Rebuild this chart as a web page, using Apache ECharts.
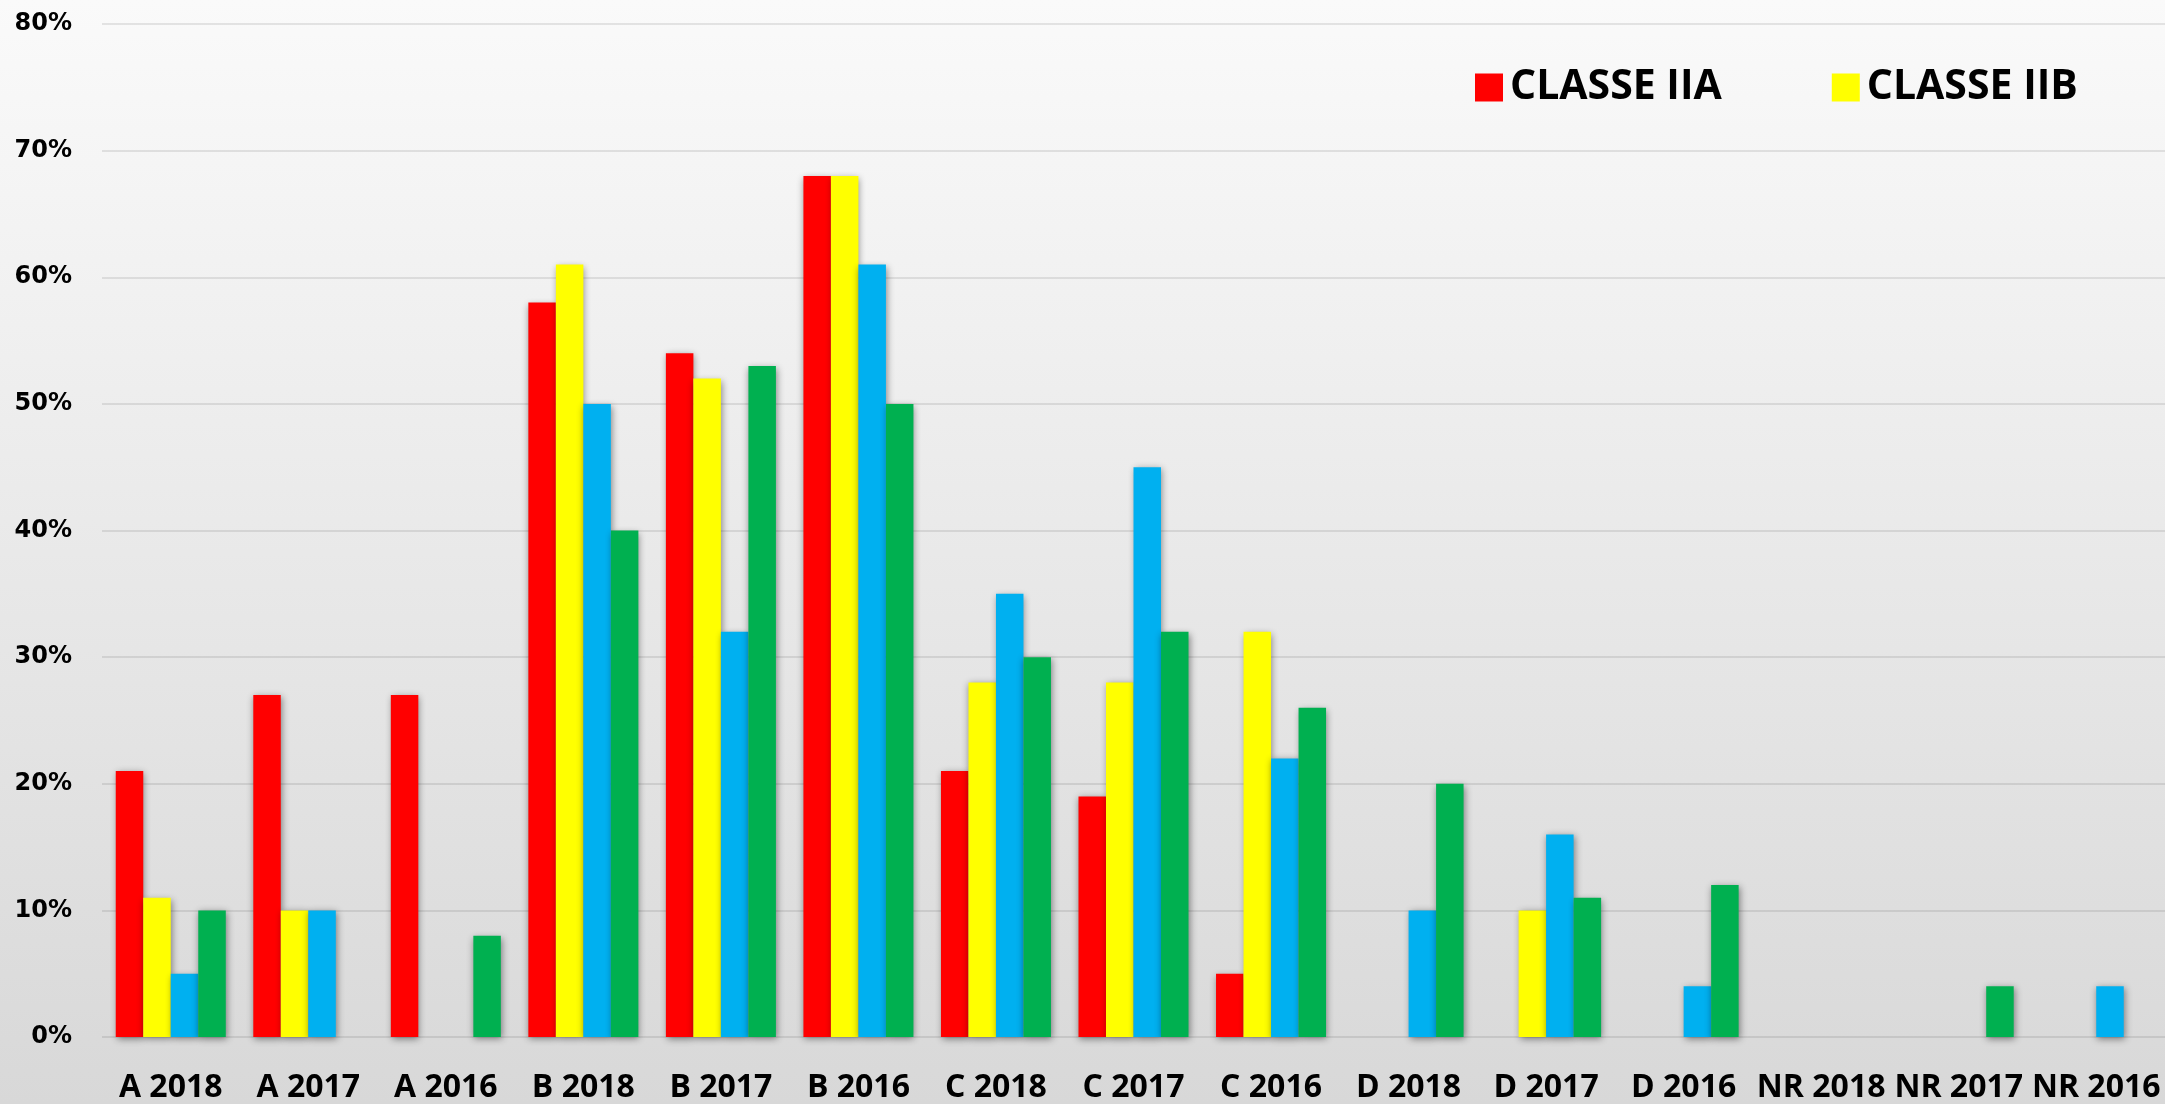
<!DOCTYPE html>
<html>
<head>
<meta charset="utf-8">
<script src="https://cdn.jsdelivr.net/npm/echarts@6/dist/echarts.min.js"></script>
<style>
html,body{margin:0;padding:0;width:2165px;height:1104px;overflow:hidden;}
body{background:linear-gradient(to bottom,#fafafa 0%,#d8d8d8 100%);}
#c{width:2165px;height:1104px;}
</style>
</head>
<body>
<div id="c"></div>
<script>
var categories = ['A 2018','A 2017','A 2016','B 2018','B 2017','B 2016','C 2018','C 2017','C 2016','D 2018','D 2017','D 2016','NR 2018','NR 2017','NR 2016'];
var seriesNames = ['CLASSE IIA','CLASSE IIB','CLASSE III','CLASSE IV'];
var classeIIA = [21, 27, 27, 58, 54, 68, 21, 19, 5, null, null, null, null, null, null];
var classeIIB = [11, 10, null, 61, 52, 68, 28, 28, 32, null, 10, null, null, null, null];
var classeIII = [5, 10, null, 50, 32, 61, 35, 45, 22, 10, 16, 4, null, null, 4];
var classeIV  = [10, null, 8, 40, 53, 50, 30, 32, 26, 20, 11, 12, null, 4, null];
var yTicks = [0, 10, 20, 30, 40, 50, 60, 70, 80];
var colors = ['#FF0000','#FFFF00','#00B0F0','#00B050'];

var chart = echarts.init(document.getElementById('c'), null, {renderer:'canvas'});
var dataSets = [classeIIA, classeIIB, classeIII, classeIV];
var series = dataSets.map(function(d, i){
  return {
    name: seriesNames[i],
    type: 'bar',
    data: d,
    barGap: '0%',
    barCategoryGap: '20%',
    itemStyle: {
      color: colors[i],
      shadowColor: 'rgba(0,0,0,0.45)',
      shadowBlur: 7,
      shadowOffsetX: 1,
      shadowOffsetY: 2
    }
  };
});
chart.setOption({
  backgroundColor: 'transparent',
  animation: false,
  color: colors,
  grid: {left: 102, right: 0, top: 24, bottom: 64, containLabel: false},
  legend: {
    data: [seriesNames[0], seriesNames[1]],
    left: 1470, top: 62,
    itemWidth: 28, itemHeight: 28, itemGap: 110,
    icon: 'rect',
    textStyle: {fontFamily: 'Open Sans', fontWeight: 'bold', fontSize: 41, color: '#000', padding: [0,0,0,2]}
  },
  xAxis: {
    type: 'category',
    data: categories,
    axisLine: {show: false},
    axisTick: {show: false},
    axisLabel: {
      interval: 0, margin: 35,
      fontFamily: 'Open Sans', fontWeight: 'bold', fontSize: 32, color: '#000'
    }
  },
  yAxis: {
    type: 'value',
    min: yTicks[0], max: yTicks[yTicks.length-1], interval: 10,
    axisLine: {show: false},
    axisTick: {show: false},
    splitLine: {lineStyle: {color: 'rgba(0,0,0,0.09)', width: 2}},
    axisLabel: {
      margin: 30,
      formatter: function(v){ return v + '%'; },
      fontFamily: 'DejaVu Sans', fontWeight: 'bold', fontSize: 24, color: '#000'
    }
  },
  series: series
});
</script>
</body>
</html>
